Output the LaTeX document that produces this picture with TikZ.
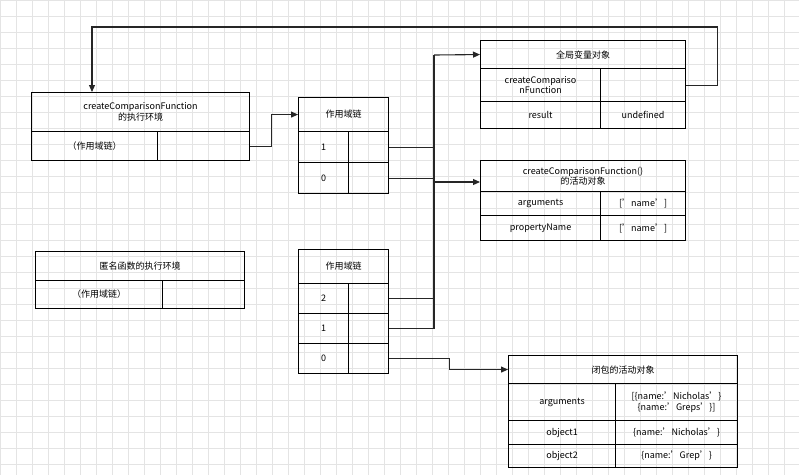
\documentclass[tikz,border=0pt]{standalone}
\usepackage{fontspec}
\setmainfont{Noto Sans CJK SC}
\usetikzlibrary{arrows.meta}
\definecolor{gridc}{RGB}{228,228,228}

\begin{document}
\begin{tikzpicture}[x=1pt, y=-1pt,
	cell/.style={draw, line width=1.1pt, anchor=north west, inner sep=0pt, align=center, font=\fontsize{9}{10.5}\selectfont},
	link/.style={line width=1.1pt, draw=black!85},
	arr/.style={link, -{Triangle[length=7pt, width=6pt]}}]
	\useasboundingbox (0,0) rectangle (799,475);
	% background grid
	\draw[gridc, step=16pt] (0,0) grid (799,475);
	% createComparisonFunction execution context
	\node[cell, minimum width=218pt, minimum height=39pt] (ctxh) at (31,92) {createComparisonFunction\\的执行环境};
	\node[cell, minimum width=126pt, minimum height=29pt] (ctxa) at (31,131) {（作用域链）};
	\node[cell, minimum width=92pt, minimum height=29pt] (ctxb) at (157,131) {};
	% its scope chain
	\node[cell, minimum width=90pt, minimum height=34pt] (sch) at (298,97) {作用域链};
	\node[cell, minimum width=50pt, minimum height=31pt] (sc1) at (298,131) {1};
	\node[cell, minimum width=40pt, minimum height=31pt] (sc1v) at (348,131) {};
	\node[cell, minimum width=50pt, minimum height=31pt] (sc0) at (298,162) {0};
	\node[cell, minimum width=40pt, minimum height=31pt] (sc0v) at (348,162) {};
	% global variable object
	\node[cell, minimum width=205pt, minimum height=28pt] (glh) at (480,40) {全局变量对象};
	\node[cell, minimum width=120pt, minimum height=33pt] (gl1) at (480,68) {createCompariso\\nFunction};
	\node[cell, minimum width=85pt, minimum height=33pt] (gl1v) at (600,68) {};
	\node[cell, minimum width=120pt, minimum height=27pt] (gl2) at (480,101) {result};
	\node[cell, minimum width=85pt, minimum height=27pt] (gl2v) at (600,101) {undefined};
	% activation object
	\node[cell, minimum width=205pt, minimum height=31pt] (ach) at (480,160) {createComparisonFunction()\\的活动对象};
	\node[cell, minimum width=120pt, minimum height=24pt] (ac1) at (480,191) {arguments};
	\node[cell, minimum width=85pt, minimum height=24pt] (ac1v) at (600,191) {['name']};
	\node[cell, minimum width=120pt, minimum height=25pt] (ac2) at (480,215) {propertyName};
	\node[cell, minimum width=85pt, minimum height=25pt] (ac2v) at (600,215) {['name']};
	% anonymous function execution context
	\node[cell, minimum width=209pt, minimum height=29pt] (anh) at (35,251) {匿名函数的执行环境};
	\node[cell, minimum width=127pt, minimum height=28pt] (ana) at (35,280) {（作用域链）};
	\node[cell, minimum width=82pt, minimum height=28pt] (anb) at (162,280) {};
	% its scope chain
	\node[cell, minimum width=90pt, minimum height=34pt] (tch) at (298,249) {作用域链};
	\node[cell, minimum width=50pt, minimum height=30pt] (tc2) at (298,283) {2};
	\node[cell, minimum width=40pt, minimum height=30pt] (tc2v) at (348,283) {};
	\node[cell, minimum width=50pt, minimum height=30pt] (tc1) at (298,313) {1};
	\node[cell, minimum width=40pt, minimum height=30pt] (tc1v) at (348,313) {};
	\node[cell, minimum width=50pt, minimum height=30pt] (tc0) at (298,343) {0};
	\node[cell, minimum width=40pt, minimum height=30pt] (tc0v) at (348,343) {};
	% closure activation object
	\node[cell, minimum width=229pt, minimum height=28pt] (clh) at (508,355) {闭包的活动对象};
	\node[cell, minimum width=107pt, minimum height=37pt] (cl1) at (508,383) {arguments};
	\node[cell, minimum width=122pt, minimum height=37pt] (cl1v) at (615,383) {[\{name:'Nicholas'\}\\\{name:'Greps'\}]};
	\node[cell, minimum width=107pt, minimum height=24pt] (cl2) at (508,420) {object1};
	\node[cell, minimum width=122pt, minimum height=24pt] (cl2v) at (615,420) {\{name:'Nicholas'\}};
	\node[cell, minimum width=107pt, minimum height=23pt] (cl3) at (508,444) {object2};
	\node[cell, minimum width=122pt, minimum height=23pt] (cl3v) at (615,444) {\{name:'Grep'\}};
	% connectors
	\coordinate (trunk) at (434,55);
	\coordinate (fork) at (434,182);
	\coordinate (ret) at (92,92);
	\draw[arr] (gl1v.east) -- ++(31,0) |- (716,27) -| (ret);
	\draw[arr] (ctxb.east) -- ++(21,0) |- (sch.west);
	\draw[link] (trunk) -- (trunk |- tc1v.east) -- (tc1v.east);
	\draw[arr] (trunk) -- (glh.west);
	\draw[link] (sc1v.east) -- (sc1v.east -| trunk);
	\draw[link] (sc0v.east) -- (sc0v.east -| trunk);
	\draw[arr] (fork) -- (fork -| ach.west);
	\draw[link] (tc2v.east) -- (tc2v.east -| trunk);
	\draw[arr] (tc0v.east) -- ++(60,0) |- (clh.west);
\end{tikzpicture}
\end{document}
